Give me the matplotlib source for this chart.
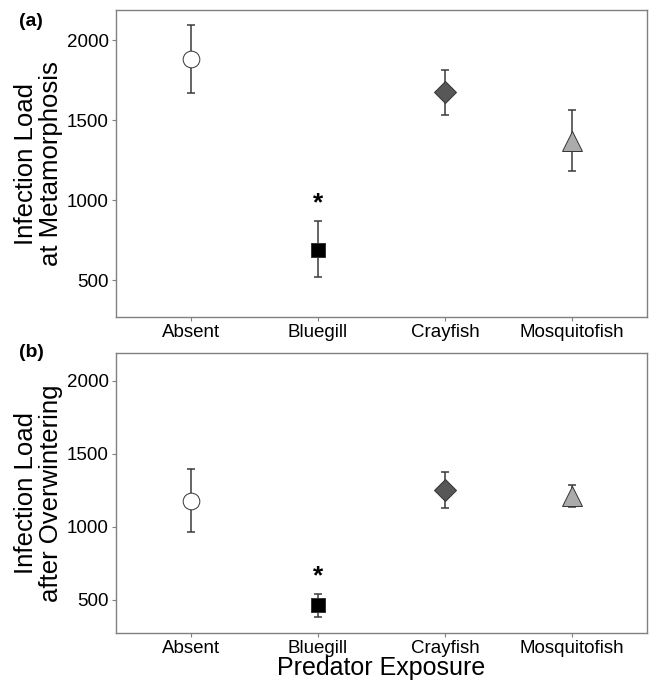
import matplotlib.pyplot as plt
import numpy as np

plt.rcParams['font.family'] = ['Liberation Sans', 'DejaVu Sans']

predators = ["Absent", "Bluegill", "Crayfish", "Mosquitofish"]

# panel (a): infection load at metamorphosis
meta_mean = [1886, 692, 1675, 1372]
meta_low = [1671, 521, 1531, 1183]
meta_high = [2098, 871, 1814, 1562]

# panel (b): infection load after overwintering
over_mean = [1178, 461, 1251, 1212]
over_low = [961, 381, 1128, 1139]
over_high = [1397, 541, 1377, 1285]

star_a = 983
star_b = 660

markers = ['o', 's', 'D', '^']
fills = ['white', 'black', '#575757', '#ababab']
msizes = [12, 10.5, 11, 14]

fig = plt.figure(figsize=(6.51, 6.81), dpi=100)
ax_a = fig.add_axes([0.178, 0.5345, 0.816, 0.4505])
ax_b = fig.add_axes([0.178, 0.070, 0.816, 0.411])

def draw(ax, mean, low, high, star, ylabel):
    x = np.arange(1, len(predators) + 1)
    for i in range(len(predators)):
        ax.errorbar(x[i], mean[i], yerr=[[mean[i] - low[i]], [high[i] - mean[i]]],
                    fmt='none', ecolor='#3a3a3a', elinewidth=1.1, capsize=3, capthick=1.1, zorder=2)
        ax.plot(x[i], mean[i], marker=markers[i], markersize=msizes[i], markerfacecolor=fills[i],
                markeredgecolor='#333333', markeredgewidth=0.7, linestyle='none', zorder=3)
    ax.text(2, star, '*', ha='center', va='center', fontsize=19, fontweight='bold')
    ax.set_xlim(0.41, 4.59)
    ax.set_ylim(270, 2188)
    ax.set_xticks(x)
    ax.set_xticklabels(predators)
    ax.set_yticks([500, 1000, 1500, 2000])
    ax.tick_params(axis='both', labelsize=13.5, length=3, width=0.8, color='#808080', pad=2)
    for s in ax.spines.values():
        s.set_color('#808080')
        s.set_linewidth(1.0)
    ax.set_ylabel(ylabel, fontsize=18.5, linespacing=1.05, labelpad=3)

draw(ax_a, meta_mean, meta_low, meta_high, star_a, "Infection Load\nat Metamorphosis")
draw(ax_b, over_mean, over_low, over_high, star_b, "Infection Load\nafter Overwintering")
ax_b.set_xlabel("Predator Exposure", fontsize=18, labelpad=-1)

fig.text(0.029, 0.968, "(a)", fontsize=14, fontweight='bold', ha='left', va='center')
fig.text(0.029, 0.483, "(b)", fontsize=14, fontweight='bold', ha='left', va='center')

fig.savefig("out.png", dpi=100)
